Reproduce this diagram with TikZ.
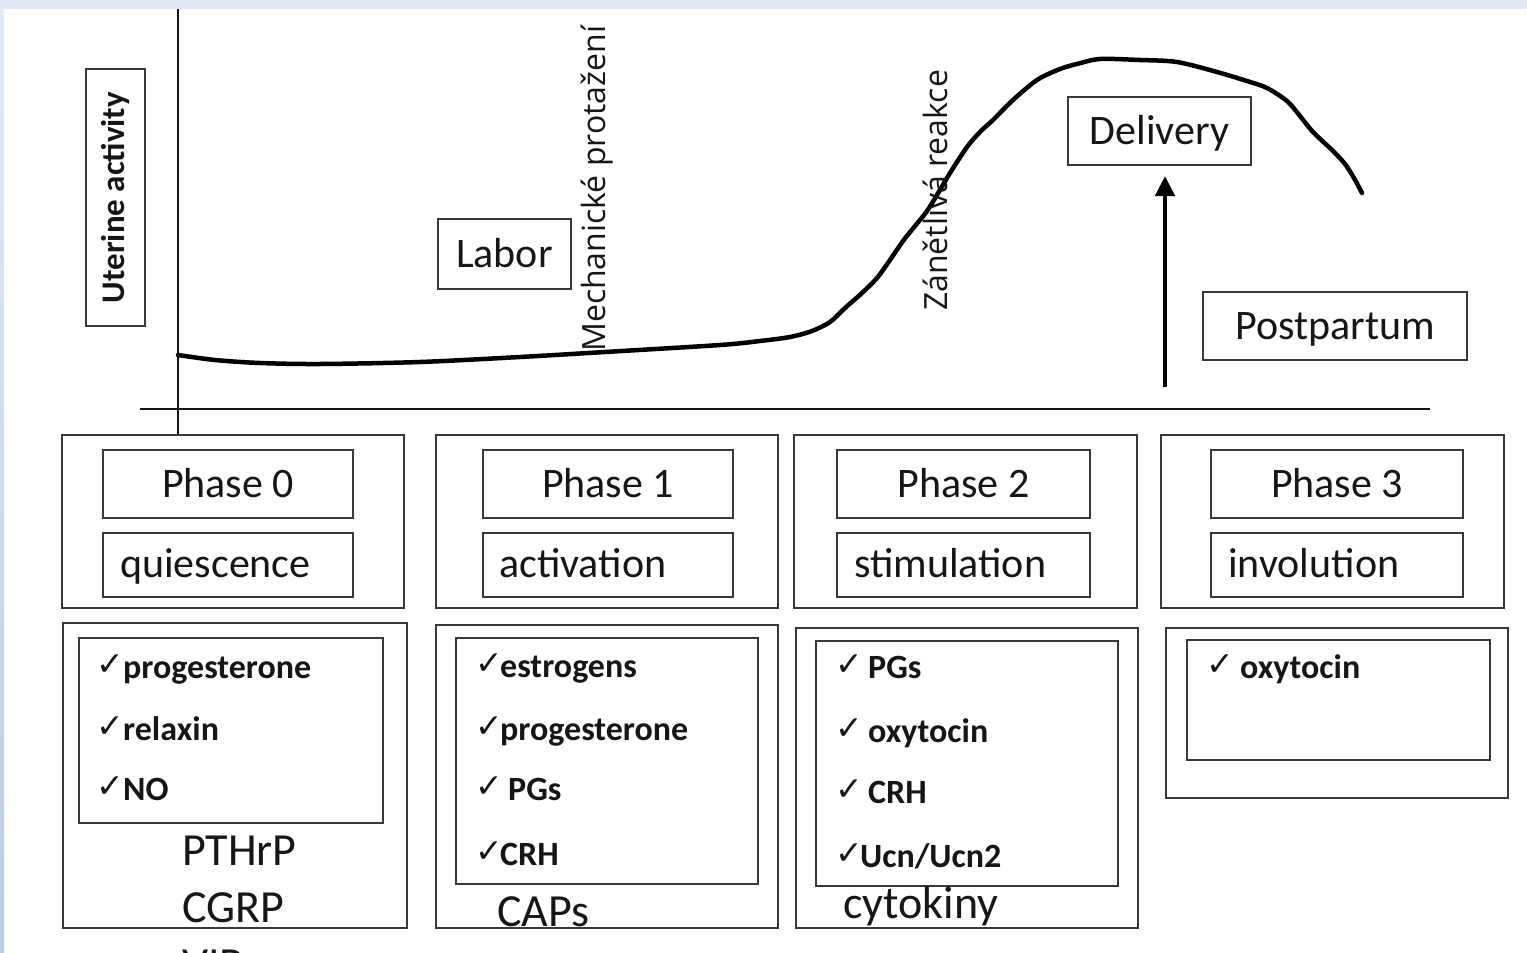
\documentclass[tikz,border=0pt]{standalone}
\usepackage{fontspec}
\setmainfont{Carlito}
\newfontfamily\osans{Open Sans}
\newfontfamily\dvs{DejaVu Sans}
\usetikzlibrary{arrows.meta,fit}
\definecolor{ink}{HTML}{161616}
\definecolor{frame}{HTML}{383838}
\definecolor{bgtop}{HTML}{E3EAF6}
\definecolor{bgleft}{HTML}{B9CBEC}
\newcommand\ckx[1]{\makebox[#1][l]{\raisebox{3pt}{\dvs\fontsize{33}{33}\selectfont\mdseries ✓}}}
\begin{document}
\begin{tikzpicture}[x=1pt,y=-1pt,
  box/.style={draw=frame, line width=2pt, inner sep=0pt},
  lbl/.style={font=\fontsize{42}{50}\selectfont, text=ink, inner sep=0pt},
  capc/.style={text height=26.5pt, text depth=0pt, anchor=center},
  big/.style={font=\fontsize{46}{57}\selectfont, text=ink, inner sep=0pt},
  itm/.style={font=\fontsize{34}{40}\selectfont\bfseries, text=ink, inner sep=0pt},
  rot/.style={font=\osans\fontsize{32}{38}\selectfont, text=ink, inner sep=0pt, rotate=90},
  axis/.style={draw=ink, line width=2.2pt},
  curve/.style={draw=black, line width=4.5pt, line cap=round, line join=round},
  arr/.style={draw=black, line width=4.5pt, -{Triangle[width=19pt,length=20pt]}}
]
\path[use as bounding box] (0,0) rectangle (1527,953);
\clip (0,0) rectangle (1527,953);
\fill[bgtop] (0,0) rectangle (1527,9);
\shade[top color=bgtop, bottom color=bgleft] (0,9) rectangle (4,953);

% axes
\coordinate (ytop) at (178,9);
\coordinate (xl) at (140,409);
\coordinate (xr) at (1430,409);

% Uterine activity label
\node[box, fit={(86,69)(145,326)}] (uabox) {};
\node[rot, font=\fontsize{33}{40}\selectfont\bfseries, anchor=center] (ua) at (uabox.center) {Uterine activity};

% curve
\draw[curve] plot[smooth, tension=0.5] coordinates {
 (178,355) (215,360) (260,363) (320,364) (420,362) (520,357) (605,352) (720,345)
 (760,341) (790,337) (812,331) (830,322) (845,308) (862,293) (877,278) (890,260)
 (903,241) (915,226) (927,211) (940,190) (950,173) (967,147) (980,132) (993,120)
 (1013,100) (1037,80) (1060,69) (1077,64) (1100,59) (1140,60) (1177,62) (1217,72)
 (1250,82) (1267,88) (1287,101) (1300,116) (1313,132) (1333,151) (1345,164)
 (1354,178) (1362,193)};

% top labels
\node[box, fit={(438,219)(571,289)}] (labor) {};
\node[lbl, capc] (laborT) at (labor.center) {Labor};
\node[box, fit={(1068,97)(1251,165)}] (deliv) {};
\node[lbl, capc] (delivT) at (deliv.center) {Delivery};
\node[box, fit={(1203,292)(1467,360)}] (postp) {};
\node[lbl, capc] (postpT) at (postp.center) {Postpartum};
\node[rot, anchor=base west] (mech) at (605,352) {Mechanické protažení};
\node[rot, anchor=base west] (zan) at (947,311) {Zánětlivá reakce};

% arrow to delivery
\coordinate (arrs) at (1165,387);
\draw[arr, shorten >=10pt] (arrs) -- (arrs |- deliv.south);

% phase row
\node[box, fit={(62,435)(404,608)}] (o0) {};
\node[box, fit={(436,435)(778,608)}] (o1) {};
\node[box, fit={(794,435)(1137,608)}] (o2) {};
\node[box, fit={(1161,435)(1504,608)}] (o3) {};

\draw[axis] (ytop) -- (ytop |- o0.north);
\draw[axis] (xl) -- (xr);

\node[box, fit={(103,450)(353,518)}] (p0) {};
\node[box, fit={(483,450)(733,518)}] (p1) {};
\node[box, fit={(837,450)(1090,518)}] (p2) {};
\node[box, fit={(1211,450)(1463,518)}] (p3) {};
\node[lbl, capc] (p0T) at (p0.center) {Phase 0};
\node[lbl, capc] (p1T) at (p1.center) {Phase 1};
\node[lbl, capc] (p2T) at (p2.center) {Phase 2};
\node[lbl, capc] (p3T) at (p3.center) {Phase 3};

\node[box, fit={(103,533)(353,597)}] (s0) {};
\node[box, fit={(483,533)(733,597)}] (s1) {};
\node[box, fit={(837,533)(1090,597)}] (s2) {};
\node[box, fit={(1211,533)(1463,597)}] (s3) {};
\node[lbl, anchor=base west] (t0) at (120,577) {quiescence};
\node[lbl, anchor=base west] (t1) at (499,577) {activation};
\node[lbl, anchor=base west] (t2) at (854,577) {stimulation};
\node[lbl, anchor=base west] (t3) at (1228,577) {involution};

% bottom row outer & inner
\node[box, fit={(63,623)(407,928)}] (bA) {};
\node[box, fit={(436,625)(778,928)}] (bB) {};
\node[box, fit={(796,628)(1138,928)}] (bC) {};
\node[box, fit={(1166,628)(1508,798)}] (bD) {};
\node[box, fit={(79,638)(383,823)}] (iA) {};
\node[box, fit={(456,638)(758,884)}] (iB) {};
\node[box, fit={(816,641)(1118,886)}] (iC) {};
\node[box, fit={(1187,640)(1490,760)}] (iD) {};

% items A
\node[itm, anchor=base west] (a1) at (96,678) {\ckx{27pt}progesterone};
\node[itm, anchor=base west] (a2) at (96,740) {\ckx{27pt}relaxin};
\node[itm, anchor=base west] (a3) at (96,800) {\ckx{27pt}NO};
\node[big, anchor=base west] (a4) at (182,865) {PTHrP};
\node[big, anchor=base west] (a5) at (182,922) {CGRP};
\node[big, anchor=base west] (a6) at (182,979) {VIP};
% items B
\node[itm, anchor=base west] (b1) at (475,677) {\ckx{25pt}estrogens};
\node[itm, anchor=base west] (b2) at (475,740) {\ckx{25pt}progesterone};
\node[itm, anchor=base west] (b3) at (475,800) {\ckx{33pt}PGs};
\node[itm, anchor=base west] (b4) at (475,865) {\ckx{25pt}CRH};
\node[big, anchor=base west] (b5) at (497,926) {CAPs};
% items C
\node[itm, anchor=base west] (c1) at (835,678) {\ckx{33pt}PGs};
\node[itm, anchor=base west] (c2) at (835,742) {\ckx{33pt}oxytocin};
\node[itm, anchor=base west] (c3) at (835,803) {\ckx{33pt}CRH};
\node[itm, anchor=base west] (c4) at (835,867) {\ckx{25pt}Ucn/Ucn2};
\node[big, anchor=base west] (c5) at (843,918) {cytokiny};
% items D
\node[itm, anchor=base west] (d1) at (1206,678) {\ckx{34pt}oxytocin};
\end{tikzpicture}
\end{document}
